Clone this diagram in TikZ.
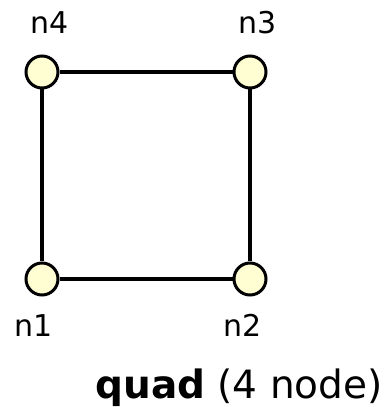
\documentclass[tikz,border=0pt]{standalone}
\usepackage{fontspec}
\setmainfont{DejaVu Sans}
\usetikzlibrary{positioning}
\definecolor{vertexfill}{RGB}{255,253,210}

\begin{document}
\begin{tikzpicture}[x=1pt, y=1pt,
  every vertex/.style={circle, draw=black, line width=3pt, fill=vertexfill,
    minimum size=32pt, inner sep=0pt},
  every edge line/.style={line width=4.5pt},
  every tag/.style={font=\fontsize{30}{36}\selectfont, anchor=base}]

\useasboundingbox (0,0) rectangle (387,407);

% corners of the quad
\foreach \n/\x/\y in {1/42/128, 2/250/128, 3/250/335, 4/42/335}
  \node [every vertex/.try] (n\n) at (\x,\y) {};

% sides
\foreach \i/\j in {1/2, 2/3, 3/4, 4/1}
  \draw [every edge line/.try] (n\i) -- (n\j);

% names, above the top pair and below the bottom pair
\foreach \n/\dx/\dy in {1/-8/-58, 2/-7/-58, 3/8/38, 4/8/38}
  \node [every tag/.try] (tag-\n) at ([xshift=\dx, yshift=\dy]n\n.center) {n\n};

\node [anchor=base, font=\fontsize{39}{46}\selectfont] (title) at (239,9)
  {\textbf{quad} (4 node)};

\end{tikzpicture}
\end{document}
